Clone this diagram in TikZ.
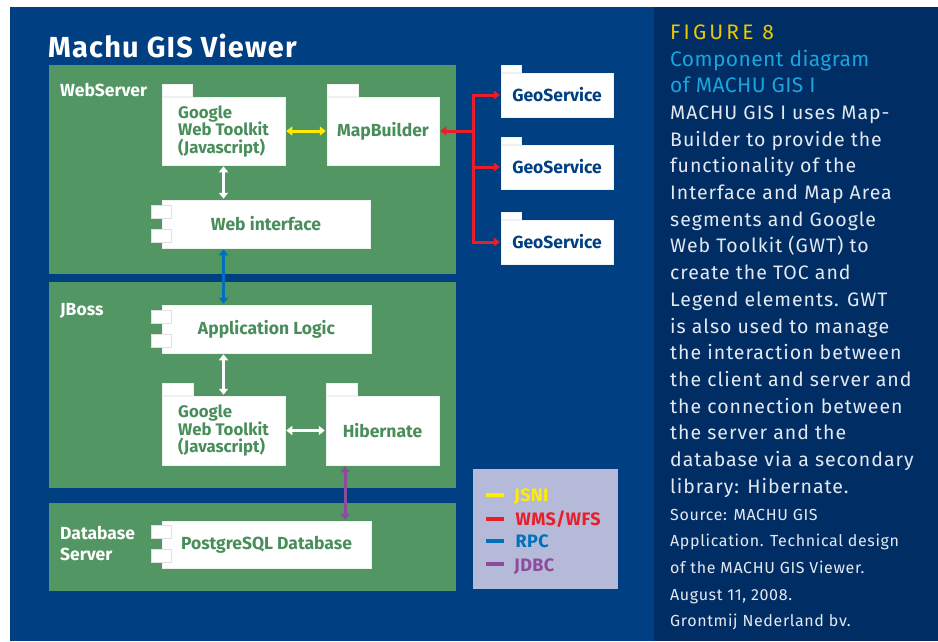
\documentclass[tikz,border=0pt]{standalone}
\usepackage{fontspec}
\setmainfont{Fira Sans}
\usetikzlibrary{arrows.meta,calc}
\definecolor{bgblue}{RGB}{0,64,130}
\definecolor{panel}{RGB}{0,46,100}
\definecolor{grn}{RGB}{82,150,100}
\definecolor{grntxt}{RGB}{72,142,90}
\definecolor{jsni}{RGB}{255,236,0}
\definecolor{wms}{RGB}{232,30,40}
\definecolor{rpc}{RGB}{0,112,186}
\definecolor{jdbc}{RGB}{140,75,155}
\definecolor{lav}{RGB}{181,186,217}
\definecolor{figy}{RGB}{235,200,0}
\definecolor{capc}{RGB}{25,165,222}
\definecolor{bodyc}{RGB}{228,232,240}
\definecolor{geotxt}{RGB}{0,64,130}
\tikzset{
  mytip/.tip={Triangle[length=6pt,width=9pt]},
  container/.style={fill=grn, inner sep=0pt, anchor=north west},
  box/.style={fill=white, draw=black!6, line width=0.5pt, inner sep=0pt, text=grntxt,
    font=\bfseries\fontsize{17.5}{17.5}\selectfont, align=left},
  gwtbox/.style={box, font=\bfseries\fontsize{16.8}{17.5}\selectfont},
  geobox/.style={box, text=geotxt, minimum width=112pt, minimum height=44pt},
  tab/.style={fill=white, draw=black!6, line width=0.5pt},
  port/.style={fill=white, draw=black!12, line width=0.6pt},
  lbl/.style={anchor=base west, inner sep=0pt, text=white, font=\bfseries\fontsize{17.5}{18}\selectfont},
  legtxt/.style={anchor=base west, inner sep=0pt, font=\bfseries\fontsize{18}{18}\selectfont\addfontfeatures{LetterSpace=2}},
  swatch/.style={line width=4pt},
  lnk/.style={line width=3pt, mytip-mytip, shorten <=1pt, shorten >=1pt},
  wlnk/.style={lnk, white, line width=2.5pt},
  bodytxt/.style={anchor=base west, text=bodyc, inner sep=0pt,
    font=\fontsize{19.5}{22}\selectfont\addfontfeatures{LetterSpace=5}},
  captxt/.style={bodytxt, text=capc, font=\fontsize{21}{24}\selectfont\addfontfeatures{LetterSpace=2}},
  figtxt/.style={bodytxt, text=figy, font=\fontsize{21}{24}\selectfont\addfontfeatures{LetterSpace=15}},
  srctxt/.style={bodytxt, font=\fontsize{16}{18}\selectfont\addfontfeatures{LetterSpace=4}}
}
\begin{document}
\begin{tikzpicture}[x=1pt,y=-1pt]
\useasboundingbox (0,0) rectangle (938,641);
\fill[white] (0,0) rectangle (938,641);
\fill[bgblue] (10,7) rectangle (654,641);
\fill[panel] (654,7) rectangle (938,641);

% title
\node[anchor=base west, inner sep=0pt, text=white, font=\bfseries\fontsize{29}{30}\selectfont\addfontfeatures{LetterSpace=4}] (title) at (48,57) {Machu GIS Viewer};

% containers
\node[container, minimum width=407pt, minimum height=209pt] (ws) at (49,65) {};
\node[container, minimum width=407pt, minimum height=206pt] (jb) at (49,282) {};
\node[container, minimum width=407pt, minimum height=88pt] (db) at (49,503) {};
\node[lbl] (wsl) at (60,96) {WebServer};
\node[lbl] (jbl) at (60,315) {JBoss};
\node[lbl] (dbl) at (60,539) {Database};
\node[lbl] (dbl2) at (60,560) {Server};

% packages / components
\node[gwtbox, minimum width=123pt, minimum height=68pt] (gwt1) at (223.5,131) {Google\\Web Toolkit\\(Javascript)};
\node[box, minimum width=112pt, minimum height=68pt] (mb) at (383,131) {MapBuilder};
\node[box, minimum width=208pt, minimum height=48pt] (web) at (266,224) {Web interface};
\node[box, minimum width=209pt, minimum height=48pt] (app) at (266.5,329) {Application Logic};
\node[gwtbox, minimum width=123pt, minimum height=69pt] (gwt2) at (223.5,430.5) {Google\\Web Toolkit\\(Javascript)};
\node[box, minimum width=113pt, minimum height=69pt] (hib) at (382.5,430.5) {Hibernate};
\node[box, minimum width=209pt, minimum height=47pt] (pg) at (266.5,544.5) {PostgreSQL Database};
\node[geobox] (geo1) at (557,95) {GeoService};
\node[geobox] (geo2) at (557,167) {GeoService};
\node[geobox] (geo3) at (557,242) {GeoService};

% tabs
\foreach \n/\w in {gwt1/30, mb/31, gwt2/31, hib/31}
  \draw[tab] ($(\n.north west)+(0,-1)$) rectangle ++(\w,-12);
\foreach \n in {geo1, geo2, geo3}
  \draw[tab] ($(\n.north west)+(0,-1)$) rectangle ++(20,-7);
% ports
\foreach \n in {web, app, pg} {
  \draw[port] ($(\n.west)+(-10,-19)$) rectangle ++(20,13);
  \draw[port] ($(\n.west)+(-10,5)$) rectangle ++(20,13);
}

% connectors
\draw[lnk, jsni] (gwt1.east) -- (mb.west);
\draw[wlnk] (gwt1.south) -- (gwt1.south |- web.north);
\draw[lnk, rpc] (gwt1.south |- web.south) -- (gwt1.south |- app.north);
\draw[wlnk] (gwt2.north |- app.south) -- (gwt2.north);
\draw[wlnk] (gwt2.east) -- (hib.west);
\draw[lnk, jdbc] ([xshift=-37.5pt]hib.south) -- ([xshift=-37.5pt]hib.south |- pg.north);
\coordinate (j) at (473,131);
\draw[wms, line width=3pt, mytip-, shorten <=1pt] (mb.east) -- (j);
\draw[wms, line width=3pt, -mytip, shorten >=1pt] (j) |- (geo1.west);
\draw[wms, line width=3pt, -mytip, shorten >=1pt] (j) |- (geo2.west);
\draw[wms, line width=3pt, -mytip, shorten >=1pt] (j) |- (geo3.west);

% legend
\node[fill=lav, inner sep=0pt, anchor=north west, minimum width=145pt, minimum height=120pt] (leg) at (473,469) {};
\draw[swatch, jsni] ($(leg.north west)+(13,26)$) -- ++(18,0);
\draw[swatch, wms]  ($(leg.north west)+(13,50)$) -- ++(18,0);
\draw[swatch, rpc]  ($(leg.north west)+(13,72)$) -- ++(18,0);
\draw[swatch, jdbc] ($(leg.north west)+(13,95)$) -- ++(18,0);
\node[legtxt, text=jsni] (l1) at (514,501.7) {JSNI};
\node[legtxt, text=wms]  (l2) at (515.5,525) {WMS/WFS};
\node[legtxt, text=rpc]  (l3) at (515.5,547.7) {RPC};
\node[legtxt, text=jdbc] (l4) at (514,571) {JDBC};

% caption panel
\node[figtxt] (fig) at (670,39.3) {FIGURE 8};
\node[captxt] (cap1) at (670,66) {Component diagram};
\node[captxt] (cap2) at (670,92.7) {of MACHU GIS I};
\foreach \t [count=\i from 0] in {{MACHU GIS I uses Map-},{Builder to provide the},{functionality of the},{Interface and Map Area},{segments and Google},{Web Toolkit (GWT) to},{create the TOC and},{Legend elements. GWT},{is also used to manage},{the interaction between},{the client and server and},{the connection between},{the server and the},{database via a secondary},{library: Hibernate.}}
  \node[bodytxt] (b\i) at (670,119.4+26.7*\i) {\t};
\foreach \t [count=\i from 0] in {{Source: MACHU GIS},{Application. Technical design},{of the MACHU GIS Viewer.},{August 11, 2008.},{Grontmij Nederland bv.}}
  \node[srctxt] (s\i) at (670,520+26.7*\i) {\t};
\end{tikzpicture}
\end{document}
